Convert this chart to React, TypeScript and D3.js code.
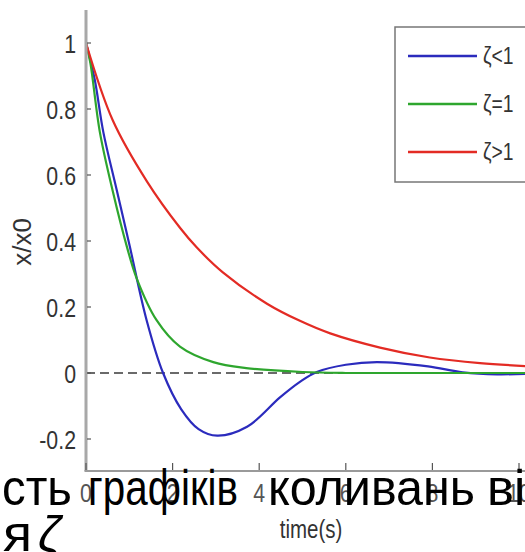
import React from "react";
import * as d3 from "d3";

// ---- data ----
const xTicks = [0, 2, 4, 6, 8, 10];
const yTicks = [-0.2, 0, 0.2, 0.4, 0.6, 0.8, 1];

const blueT = [0, 0.2, 0.4, 0.7, 1.0, 1.4, 1.78, 2.2, 2.6, 3.03, 3.72, 4.48, 4.94, 5.33, 6.0, 6.72, 7.9, 8.7, 9.5, 10.6];
const blueV = [1.0, 0.89, 0.73, 0.56, 0.39, 0.16, 0.0, -0.11, -0.17, -0.19, -0.163, -0.074, -0.027, 0.003, 0.025, 0.033, 0.02, 0.002, -0.004, 0.0];

const greenT = [0, 0.1, 0.32, 0.62, 0.95, 1.17, 1.63, 2.17, 2.94, 3.7, 5.0, 6.0, 8.0, 10.6];
const greenV = [1.0, 0.94, 0.73, 0.55, 0.38, 0.287, 0.16, 0.08, 0.033, 0.015, 0.003, 0.0, 0.0, 0.0];

const redT = [0, 0.62, 1.41, 2.17, 2.56, 3.16, 4.18, 4.94, 5.64, 6.79, 7.94, 9.1, 10.6];
const redV = [1.0, 0.765, 0.58, 0.44, 0.38, 0.305, 0.21, 0.158, 0.12, 0.077, 0.047, 0.03, 0.018];

const seriesNames = ["ζ<1", "ζ=1", "ζ>1"];
const seriesColors = ["#2b2bbd", "#2ea62e", "#e32b24"];

const xLabel = "time(s)";
const yLabel = "x/x0";
const overlayLine1 = ["сть", "графіків", "коливань", "від"];
const overlayLine2 = "я";
const overlayZeta = "ζ";

export default function App() {
  const W = 525;
  const H = 552;
  const x = d3.scaleLinear().domain([0, 10]).range([86, 519]);
  const y = d3.scaleLinear().domain([-0.2, 1]).range([439, 43]);
  const line = d3
    .line<[number, number]>()
    .x((d) => x(d[0]))
    .y((d) => y(d[1]))
    .curve(d3.curveCatmullRom.alpha(0.5));

  const series = [
    blueT.map((t, i) => [t, blueV[i]] as [number, number]),
    greenT.map((t, i) => [t, greenV[i]] as [number, number]),
    redT.map((t, i) => [t, redV[i]] as [number, number]),
  ];

  const sans = "'Liberation Sans', Arial, sans-serif";
  const axisBottom = 471;
  const sx = 0.82; // narrow-font look

  // overlay word positions (start x, width)
  const wordBoxes = [
    [2, 70],
    [88, 150],
    [268, 207],
    [487, 68],
  ];

  return (
    <svg
      width={W}
      height={H}
      style={{ position: "fixed", left: 0, top: 0, background: "#fff" }}
      xmlns="http://www.w3.org/2000/svg"
    >
      <rect x={0} y={0} width={W} height={H} fill="#fff" />
      {/* zero dashed line */}
      <line x1={x(0)} x2={W} y1={y(0)} y2={y(0)} stroke="#3a3a3a" strokeWidth={1.6} strokeDasharray="9 5" />

      {/* curves */}
      {series.map((s, i) => (
        <path key={i} d={line(s) || ""} fill="none" stroke={seriesColors[i]} strokeWidth={2.2} />
      ))}

      {/* axes */}
      <line x1={x(0)} x2={x(0)} y1={10} y2={axisBottom} stroke="#a8a8a8" strokeWidth={3} />
      <line x1={x(0) - 1.5} x2={W} y1={axisBottom} y2={axisBottom} stroke="#9a9a9a" strokeWidth={2} />
      {yTicks.map((v) => (
        <g key={"yt" + v}>
          <line x1={x(0) + 1} x2={x(0) + 5} y1={y(v)} y2={y(v)} stroke="#555" strokeWidth={1.2} />
          <text
            transform={`translate(76,${y(v) + 9.5}) scale(${sx},1)`}
            textAnchor="end"
            fontFamily={sans}
            fontSize={26}
            fill="#333"
          >
            {String(v)}
          </text>
        </g>
      ))}
      {xTicks.map((v) => (
        <g key={"xt" + v}>
          <line x1={x(v)} x2={x(v)} y1={axisBottom - 1} y2={axisBottom - 8} stroke="#555" strokeWidth={1.2} />
          <text
            transform={`translate(${x(v)},502) scale(${sx},1)`}
            textAnchor="middle"
            fontFamily={sans}
            fontSize={26}
            fill="#555"
          >
            {String(v)}
          </text>
        </g>
      ))}
      <text
        transform={`translate(311,538) scale(${sx},1)`}
        textAnchor="middle"
        fontFamily={sans}
        fontSize={25}
        fill="#333"
      >
        {xLabel}
      </text>
      <text
        transform="translate(31,242) rotate(-90)"
        textAnchor="middle"
        fontFamily={sans}
        fontSize={26}
        fill="#333"
      >
        {yLabel}
      </text>

      {/* legend */}
      <rect x={395} y={27} width={160} height={155} fill="#fff" stroke="#777" strokeWidth={1.5} />
      {seriesNames.map((n, i) => {
        const ly = 56 + i * 48;
        return (
          <g key={n}>
            <line x1={408} x2={477} y1={ly} y2={ly} stroke={seriesColors[i]} strokeWidth={2.5} />
            <text
              transform={`translate(483,${ly + 8}) scale(0.84,1)`}
              fontFamily={sans}
              fontSize={23}
              fill="#333"
            >
              {n}
            </text>
          </g>
        );
      })}

      {/* overlaid slide text */}
      {overlayLine1.map((w, i) => (
        <text
          key={w}
          x={wordBoxes[i][0]}
          y={505}
          fontFamily={sans}
          fontSize={50}
          fill="#000"
          textLength={wordBoxes[i][1]}
          lengthAdjust="spacingAndGlyphs"
        >
          {w}
        </text>
      ))}
      <text x={3} y={551} fontFamily={sans} fontSize={50} fill="#000" textLength={29} lengthAdjust="spacingAndGlyphs">
        {overlayLine2}
      </text>
      <text x={38} y={551} fontFamily={sans} fontSize={50} fontStyle="italic" fill="#000">
        {overlayZeta}
      </text>
    </svg>
  );
}
